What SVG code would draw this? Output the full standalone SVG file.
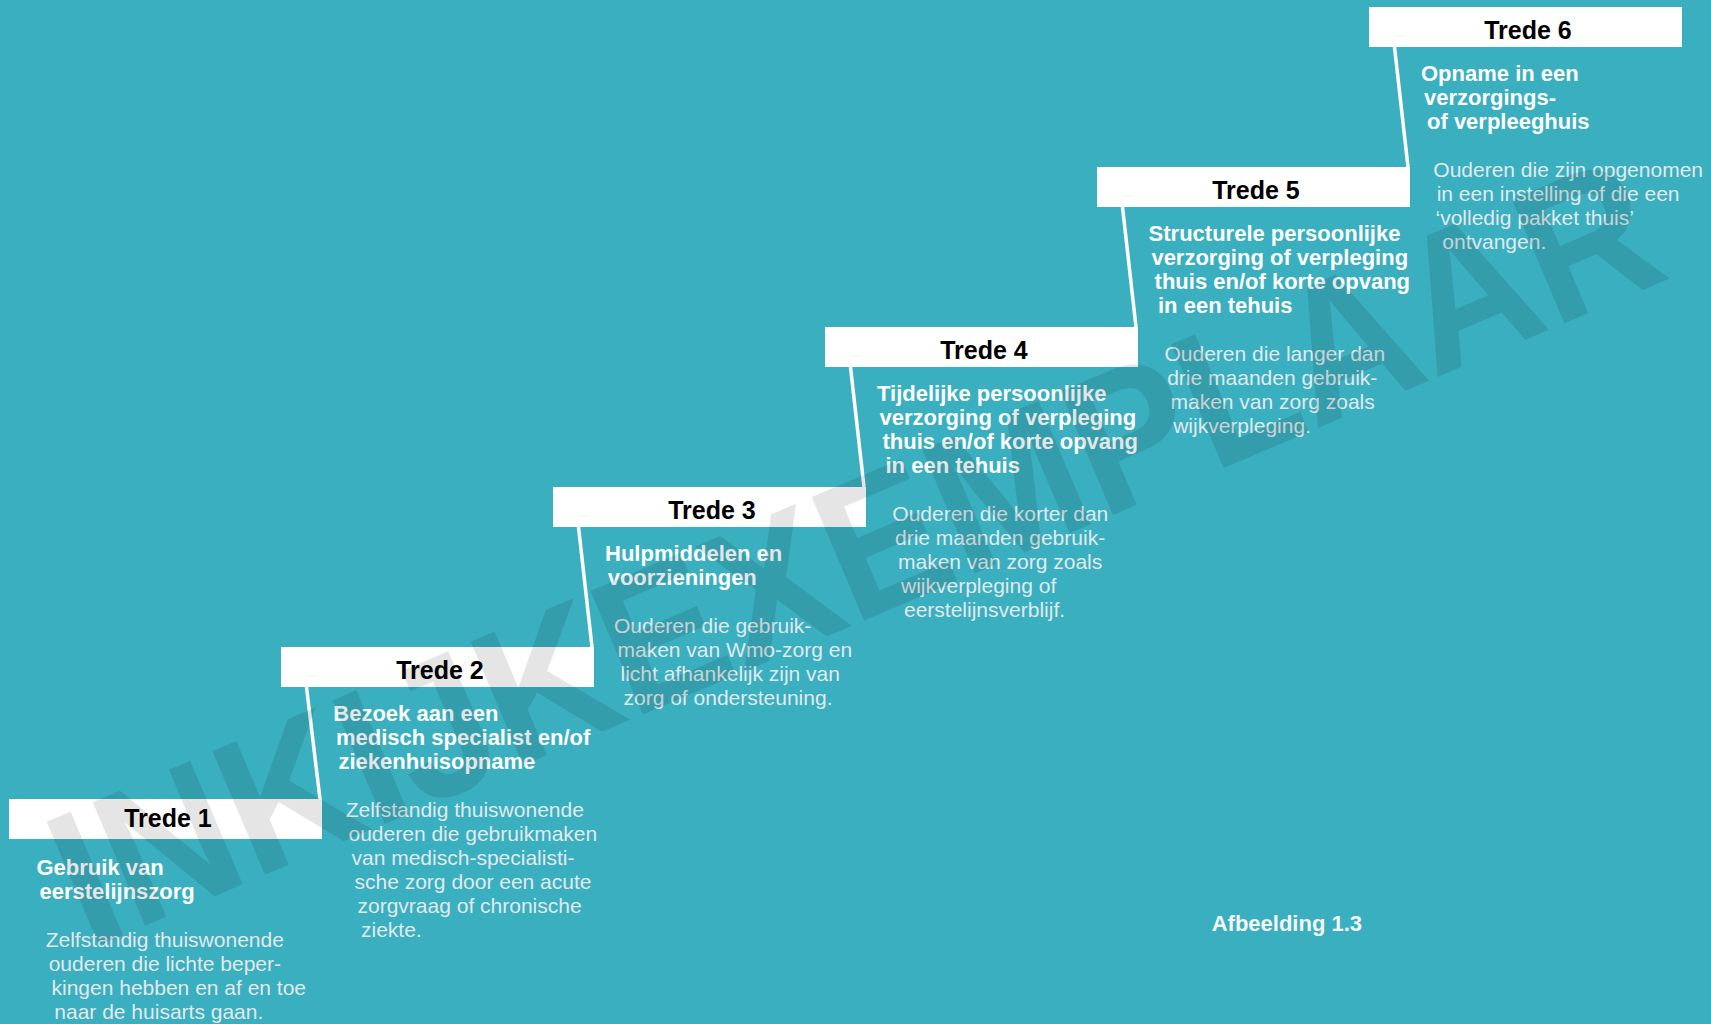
<svg xmlns="http://www.w3.org/2000/svg" width="1711" height="1024" viewBox="0 0 1711 1024">
<style>
.bg{fill:#39afc0}
.bar{fill:#ffffff}
.lbl{font-family:"Liberation Sans",Arial,sans-serif;font-weight:bold;font-size:25px;fill:#000;text-anchor:middle}
.ttl{font-family:"Liberation Sans",Arial,sans-serif;font-weight:bold;font-size:22px;fill:#ffffff}
.txt{font-family:"Liberation Sans",Arial,sans-serif;font-size:21px;fill:#e3e9eb}
.cap{font-family:"Liberation Sans",Arial,sans-serif;font-weight:bold;font-size:22px;fill:#f4f6f6}
.conn{stroke:#ffffff;stroke-width:3.5;fill:none}
.wm{font-family:"Liberation Sans",Arial,sans-serif;font-weight:bold;font-size:195px;fill:#000;fill-opacity:0.1}
</style>
<rect class="bg" x="0" y="0" width="1711" height="1024"/>

<g id="connectors">
<line class="conn" x1="306.5" y1="687" x2="320" y2="799"/>
<line class="conn" x1="578.5" y1="527" x2="592" y2="647"/>
<line class="conn" x1="850.5" y1="367" x2="864" y2="487"/>
<line class="conn" x1="1122.5" y1="207" x2="1136" y2="327"/>
<line class="conn" x1="1394.5" y1="47" x2="1408" y2="167"/>
</g>

<g id="step1">
<rect class="bar" x="9" y="799" width="313" height="40"/>
<text class="lbl" x="168" y="826.5">Trede 1</text>
<text class="ttl"><tspan x="36.5" y="875">Gebruik van</tspan><tspan x="39.5" y="899">eerstelijnszorg</tspan></text>
<text class="txt"><tspan x="45.7" y="946.7">Zelfstandig thuiswonende</tspan><tspan x="48.7" y="970.7">ouderen die lichte beper-</tspan><tspan x="51.5" y="994.7">kingen hebben en af en toe</tspan><tspan x="54.3" y="1018.7">naar de huisarts gaan.</tspan></text>
</g>

<g id="step2">
<rect class="bar" x="281" y="647" width="313" height="40"/>
<text class="lbl" x="440" y="678.5">Trede 2</text>
<text class="ttl"><tspan x="333.3" y="720.7">Bezoek aan een</tspan><tspan x="336" y="744.7">medisch specialist en/of</tspan><tspan x="338.5" y="768.7">ziekenhuisopname</tspan></text>
<text class="txt"><tspan x="345.7" y="816.7">Zelfstandig thuiswonende</tspan><tspan x="348.5" y="840.7">ouderen die gebruikmaken</tspan><tspan x="351.5" y="864.7">van medisch-specialisti-</tspan><tspan x="354.5" y="888.7">sche zorg door een acute</tspan><tspan x="357.5" y="912.7">zorgvraag of chronische</tspan><tspan x="361" y="936.7">ziekte.</tspan></text>
</g>

<g id="step3">
<rect class="bar" x="553" y="487" width="313" height="40"/>
<text class="lbl" x="712" y="518.5">Trede 3</text>
<text class="ttl"><tspan x="605" y="560.7">Hulpmiddelen en</tspan><tspan x="607.7" y="584.7">voorzieningen</tspan></text>
<text class="txt"><tspan x="614" y="632.7">Ouderen die gebruik-</tspan><tspan x="617.5" y="656.7">maken van Wmo-zorg en</tspan><tspan x="620.5" y="680.7">licht afhankelijk zijn van</tspan><tspan x="623.5" y="704.7">zorg of ondersteuning.</tspan></text>
</g>

<g id="step4">
<rect class="bar" x="825" y="327" width="313" height="40"/>
<text class="lbl" x="984" y="358.5">Trede 4</text>
<text class="ttl"><tspan x="877" y="400.7">Tijdelijke persoonlijke</tspan><tspan x="879.5" y="424.7">verzorging of verpleging</tspan><tspan x="882.5" y="448.7">thuis en/of korte opvang</tspan><tspan x="885.5" y="472.7">in een tehuis</tspan></text>
<text class="txt"><tspan x="892.3" y="520.7">Ouderen die korter dan</tspan><tspan x="895" y="544.7">drie maanden gebruik-</tspan><tspan x="898" y="568.7">maken van zorg zoals</tspan><tspan x="901" y="592.7">wijkverpleging of</tspan><tspan x="904" y="616.7">eerstelijnsverblijf.</tspan></text>
</g>

<g id="step5">
<rect class="bar" x="1097" y="167" width="313" height="40"/>
<text class="lbl" x="1256" y="198.5">Trede 5</text>
<text class="ttl"><tspan x="1148.6" y="240.7">Structurele persoonlijke</tspan><tspan x="1151.4" y="264.7">verzorging of verpleging</tspan><tspan x="1154.6" y="288.7">thuis en/of korte opvang</tspan><tspan x="1158" y="312.7">in een tehuis</tspan></text>
<text class="txt"><tspan x="1164.5" y="360.7">Ouderen die langer dan</tspan><tspan x="1167.2" y="384.7">drie maanden gebruik-</tspan><tspan x="1170.5" y="408.7">maken van zorg zoals</tspan><tspan x="1173.2" y="432.7">wijkverpleging.</tspan></text>
</g>

<g id="step6">
<rect class="bar" x="1369" y="7" width="313" height="40"/>
<text class="lbl" x="1528" y="38.5">Trede 6</text>
<text class="ttl"><tspan x="1421" y="81">Opname in een</tspan><tspan x="1424" y="105">verzorgings-</tspan><tspan x="1427" y="129">of verpleeghuis</tspan></text>
<text class="txt"><tspan x="1433.3" y="177">Ouderen die zijn opgenomen</tspan><tspan x="1436.7" y="201">in een instelling of die een</tspan><tspan x="1435.5" y="225">‘volledig pakket thuis’</tspan><tspan x="1442.3" y="249">ontvangen.</tspan></text>
</g>

<g id="caption">
<text class="cap" x="1211.7" y="930.7">Afbeelding 1.3</text>
</g>

<g id="watermark">
<text class="wm" transform="translate(88,950) rotate(-23)" x="0" y="0" textLength="1722" lengthAdjust="spacingAndGlyphs">INKIJKEXEMPLAAR</text>
</g>
</svg>
